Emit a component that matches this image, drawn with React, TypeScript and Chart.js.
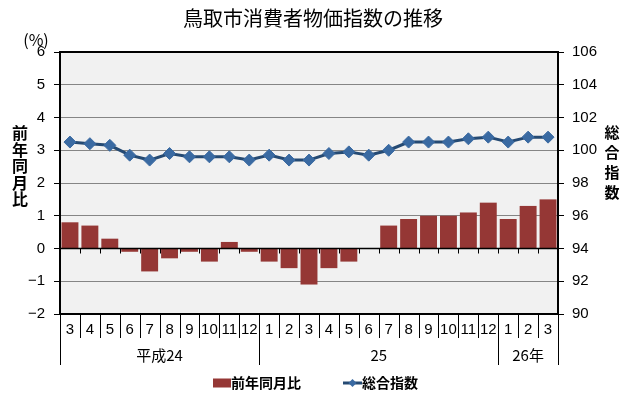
import React, { useEffect, useRef } from 'react';
import { Chart, registerables } from 'chart.js';

Chart.register(...registerables);

const titleText = '鳥取市消費者物価指数の推移';
const months = ['3', '4', '5', '6', '7', '8', '9', '10', '11', '12', '1', '2', '3', '4', '5', '6', '7', '8', '9', '10', '11', '12', '1', '2', '3'];
const yoyChange = [0.8, 0.7, 0.3, -0.1, -0.7, -0.3, -0.1, -0.4, 0.2, -0.1, -0.4, -0.6, -1.1, -0.6, -0.4, 0, 0.7, 0.9, 1.0, 1.0, 1.1, 1.4, 0.9, 1.3, 1.5];
const overallIndex = [100.5, 100.4, 100.3, 99.7, 99.4, 99.8, 99.6, 99.6, 99.6, 99.4, 99.7, 99.4, 99.4, 99.8, 99.9, 99.7, 100.0, 100.5, 100.5, 100.5, 100.7, 100.8, 100.5, 100.8, 100.8];
const yearLabels = ['平成24', '25', '26年'];
const yearStarts = [0, 10, 22];
const seriesNames = ['前年同月比', '総合指数'];
const leftTitle = ['前', '年', '同', '月', '比'];
const rightTitle = ['総', '合', '指', '数'];
const unitLabel = '(%)';

const BAR_COLOR = '#953735';
const LINE_COLOR = '#254A73';
const MARKER_COLOR = '#3A6AA2';
const CJK = '"Noto Sans CJK JP", sans-serif';
const NUM = '"Liberation Sans", Arial, sans-serif';

const decorPlugin = {
  id: 'decor',
  beforeDraw(chart: any) {
    const { ctx, chartArea: a } = chart;
    ctx.save();
    ctx.fillStyle = '#FFFFFF';
    ctx.fillRect(0, 0, chart.width, chart.height);
    ctx.fillStyle = '#F1F1F1';
    ctx.fillRect(a.left, a.top, a.right - a.left, a.bottom - a.top);
    ctx.restore();
  },
  afterDraw(chart: any) {
    const { ctx, chartArea: a, scales } = chart;
    const x = scales.x;
    const y = scales.y;
    const w = x.getPixelForValue(1) - x.getPixelForValue(0);
    const edge = (i: number) => x.getPixelForValue(0) + (i - 0.5) * w;
    ctx.save();
    // zero line
    const y0 = y.getPixelForValue(0);
    ctx.strokeStyle = '#000';
    ctx.lineWidth = 1.5;
    ctx.beginPath();
    ctx.moveTo(a.left, y0);
    ctx.lineTo(a.right, y0);
    ctx.stroke();
    ctx.lineWidth = 1;
    for (let i = 0; i <= months.length; i++) {
      const px = Math.round(edge(i)) + 0.5;
      ctx.beginPath();
      ctx.moveTo(px, y0);
      ctx.lineTo(px, y0 + 5);
      ctx.stroke();
    }
    // separators under the plot
    const yearEdges = [...yearStarts, months.length];
    for (let i = 0; i <= months.length; i++) {
      const px = Math.round(edge(i)) + 0.5;
      const long = yearEdges.includes(i);
      ctx.beginPath();
      ctx.moveTo(px, a.bottom);
      ctx.lineTo(px, a.bottom + (long ? 51 : 24));
      ctx.stroke();
    }
    // year labels
    ctx.fillStyle = '#000';
    ctx.font = `15px ${CJK}`;
    ctx.textAlign = 'center';
    ctx.textBaseline = 'middle';
    for (let k = 0; k < yearLabels.length; k++) {
      const cx = (edge(yearEdges[k]) + edge(yearEdges[k + 1])) / 2;
      ctx.fillText(yearLabels[k], cx, a.bottom + 41);
    }
    // border
    ctx.lineWidth = 2;
    ctx.strokeRect(a.left, a.top, a.right - a.left, a.bottom - a.top);
    // title
    ctx.font = `20px ${CJK}`;
    ctx.fillText(titleText, 313, 18);
    // unit
    ctx.font = `16px ${CJK}`;
    ctx.fillText(unitLabel, 36, 40);
    // axis titles
    ctx.font = `bold 16px ${CJK}`;
    leftTitle.forEach((c, i) => ctx.fillText(c, 20, 133 + i * 16.5));
    ctx.font = `bold 15px ${CJK}`;
    rightTitle.forEach((c, i) => ctx.fillText(c, 612, 132 + i * 20));
    // legend
    const ly = 383;
    ctx.fillStyle = BAR_COLOR;
    ctx.fillRect(213, ly - 4.5, 18, 9);
    ctx.fillStyle = '#000';
    ctx.font = `bold 14px ${CJK}`;
    ctx.textAlign = 'left';
    ctx.fillText(seriesNames[0], 231, ly);
    ctx.strokeStyle = LINE_COLOR;
    ctx.lineWidth = 3;
    ctx.beginPath();
    ctx.moveTo(343, ly);
    ctx.lineTo(362, ly);
    ctx.stroke();
    ctx.fillStyle = MARKER_COLOR;
    ctx.beginPath();
    ctx.moveTo(352.5, ly - 4);
    ctx.lineTo(356.5, ly);
    ctx.lineTo(352.5, ly + 4);
    ctx.lineTo(348.5, ly);
    ctx.closePath();
    ctx.fill();
    ctx.fillStyle = '#000';
    ctx.fillText(seriesNames[1], 362, ly);
    ctx.restore();
  },
};

export default function App() {
  const ref = useRef<HTMLCanvasElement | null>(null);
  useEffect(() => {
    if (!ref.current) return;
    const chart = new Chart(ref.current, {
      type: 'bar',
      data: {
        labels: months,
        datasets: [
          {
            type: 'line',
            label: seriesNames[1],
            data: overallIndex,
            yAxisID: 'y1',
            borderColor: LINE_COLOR,
            borderWidth: 3,
            backgroundColor: MARKER_COLOR,
            pointStyle: 'rectRot',
            pointRadius: 6,
            pointBackgroundColor: MARKER_COLOR,
            pointBorderColor: MARKER_COLOR,
            pointBorderWidth: 1,
            tension: 0,
            order: 0,
          } as any,
          {
            type: 'bar',
            label: seriesNames[0],
            data: yoyChange,
            yAxisID: 'y',
            backgroundColor: BAR_COLOR,
            borderWidth: 0,
            barPercentage: 0.85,
            categoryPercentage: 1,
            order: 1,
          } as any,
        ],
      },
      options: {
        responsive: false,
        animation: false,
        events: [],
        layout: { padding: { top: 52, left: 0, right: 0, bottom: 0 } },
        plugins: {
          legend: { display: false },
          title: { display: false },
          tooltip: { enabled: false },
        },
        scales: {
          x: {
            offset: true,
            grid: { display: false, drawTicks: false },
            border: { display: false },
            ticks: {
              color: '#000',
              font: { family: NUM, size: 15 },
              padding: 7,
              maxRotation: 0,
              autoSkip: false,
            },
            afterFit: (s: any) => { s.height = 86; },
          },
          y: {
            position: 'left',
            min: -2,
            max: 6,
            ticks: {
              stepSize: 1,
              color: '#000',
              font: { family: NUM, size: 15 },
              padding: 9,
              callback: (v: any) => String(v).replace('-', '\u2212'),
            },
            grid: {
              color: (c: any) => (c.tick && (c.tick.value === 0 || c.tick.value === 6 || c.tick.value === -2) ? 'rgba(0,0,0,0)' : '#858585'),
              lineWidth: 1,
              tickLength: 6,
              tickColor: '#000',
            },
            border: { display: false },
            afterFit: (s: any) => { s.width = 60; },
          },
          y1: {
            position: 'right',
            min: 90,
            max: 106,
            ticks: { stepSize: 2, color: '#000', font: { family: NUM, size: 15 }, padding: 8 },
            grid: { drawOnChartArea: false, tickLength: 6, tickColor: '#000' },
            border: { display: false },
            afterFit: (s: any) => { s.width = 72; },
          },
        },
      },
      plugins: [decorPlugin],
    });
    return () => chart.destroy();
  }, []);
  return (
    <div style={{ position: 'fixed', left: 0, top: 0, width: 630, height: 400, background: '#fff' }}>
      <canvas ref={ref} width={630} height={400} style={{ display: 'block' }} />
    </div>
  );
}
